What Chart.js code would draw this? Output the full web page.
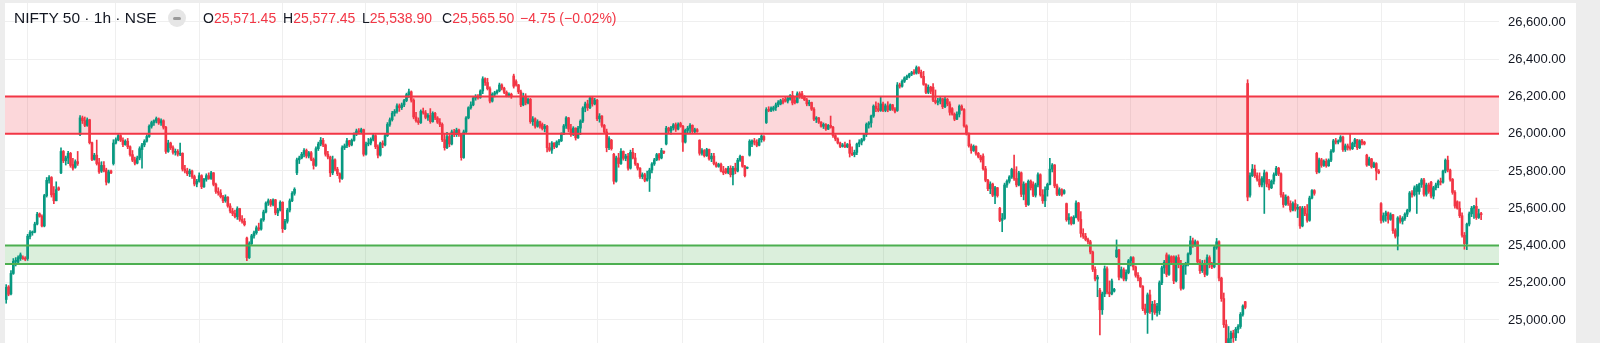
<!DOCTYPE html>
<html>
<head>
<meta charset="utf-8">
<script src="https://cdn.jsdelivr.net/npm/chart.js@4.4.1/dist/chart.umd.min.js"></script>
<style>
  html, body { margin: 0; padding: 0; background: #ededed; }
  body { width: 1600px; height: 343px; overflow: hidden; position: relative; font-family: 'Liberation Sans', Arial, sans-serif; }
  #card { position: absolute; left: 5px; top: 3px; width: 1571px; height: 340px; background: #fff; }
  #card canvas { position: absolute; left: 0; top: 0; }
  .lg { position: absolute; top: 5px; line-height: 20px; font-size: 14px; color: #131722; white-space: nowrap; z-index: 2; }
  .lg i { font-style: normal; color: #f23645; }
  .ttl { font-size: 15.5px; left: 9px; top: 5px; }
  #btn { position: absolute; left: 163px; top: 6px; width: 18px; height: 18px; border-radius: 50%; background: #e6e6e6; z-index: 2; }
  #btn::after { content: ''; position: absolute; left: 5px; top: 7.5px; width: 8px; height: 3px; border-radius: 1.5px; background: #9a9a9a; }
</style>
</head>
<body>
<div id="card">
  <canvas id="myChart"></canvas>
  <span class="lg ttl">NIFTY 50 · 1h · NSE</span>
  <span id="btn"></span>
  <span class="lg" style="left:198px">O<i>25,571.45</i></span>
  <span class="lg" style="left:278px">H<i>25,577.45</i></span>
  <span class="lg" style="left:357px">L<i>25,538.90</i></span>
  <span class="lg" style="left:437px">C<i>25,565.50</i></span>
  <span class="lg" style="left:515px"><i>−4.75 (−0.02%)</i></span>
</div>
<script>
// hourly candles, [open, high, low, close]
var rallyStart = [
  [25110,25190,25090,25175],[25178,25185,25130,25138],[25140,25265,25135,25250],[25250,25330,25245,25315],
  [25315,25335,25290,25320],[25310,25345,25300,25335],[25330,25360,25320,25350],[25335,25345,25325,25330],
  [25332,25340,25318,25326],[25330,25460,25320,25450],[25448,25480,25435,25470],[25468,25478,25455,25472],
  [25472,25525,25468,25515],[25515,25578,25510,25568],[25570,25575,25552,25556],[25556,25565,25500,25505],
  [25505,25675,25500,25668],[25668,25765,25660,25750],[25750,25775,25735,25765],[25765,25770,25660,25672],
  [25680,25716,25625,25640],[25640,25742,25640,25700],[25710,25715,25695,25700],[25790,25925,25785,25905],
  [25905,25910,25845,25855],[25855,25880,25832,25870],[25870,25905,25840,25895],[25895,25900,25820,25830],
  [25835,25868,25805,25815],[25820,25860,25815,25850],[25850,25905,25830,25840],[25995,26097,25990,26085],
  [26085,26095,26055,26070],[26070,26090,26038,26045],[26045,26085,26040,26075],[26075,26078,25945,25952],
  [25952,25955,25855,25862],[25862,25895,25858,25885],[25885,25966,25832,25840],[25845,25868,25787,25795],
  [25800,25850,25792,25830],[25830,25850,25795,25800],[25805,25815,25725,25740],[25740,25805,25735,25795],
  [25800,25805,25785,25790],[25840,25968,25832,25950],[25950,25978,25945,25968],[25968,25996,25962,25990],
  [25990,25995,25958,25965],[25965,25978,25930,25942],[25942,25968,25938,25960],[25960,25975,25920,25930]
];
var firstPullback = [
  [25930,25935,25880,25888],[25888,25910,25850,25858],[25860,25875,25832,25842],[25842,25880,25838,25870],
  [25870,25930,25860,25920],[25915,25948,25815,25940],[25940,25968,25930,25960],[25960,25995,25955,25985],
  [25985,26048,25980,26040],[26040,26068,26030,26060],[26060,26075,26045,26070],[26068,26090,26058,26082],
  [26080,26085,26050,26058],[26058,26080,26045,26070],[26070,26075,26025,26035],[26035,26040,25895,25905],
  [25905,25965,25900,25950],[25950,25955,25915,25925],[25925,25935,25890,25900],[25900,25918,25885,25905],
  [25905,25915,25880,25890],[25890,25950,25882,25895],[25895,25898,25800,25810],[25810,25830,25790,25800],
  [25800,25815,25775,25785],[25785,25810,25770,25800],[25800,25805,25760,25770],[25770,25778,25720,25730],
  [25730,25755,25715,25745],[25745,25790,25740,25775],[25775,25780,25705,25715],[25715,25760,25712,25755],
  [25755,25785,25745,25775],[25775,25790,25755,25760],[25760,25798,25755,25790],[25790,25792,25720,25728],
  [25728,25735,25680,25690],[25690,25710,25670,25682],[25682,25700,25655,25662],[25662,25670,25630,25640],
  [25640,25672,25632,25660],[25660,25662,25605,25612],[25612,25625,25575,25585],[25585,25600,25560,25572],
  [25572,25590,25548,25555],[25555,25608,25540,25598],[25598,25600,25530,25540],[25540,25560,25520,25530],
  [25530,25545,25505,25512],[25440,25445,25318,25335],[25335,25420,25330,25410],[25410,25460,25405,25452],
  [25452,25478,25440,25468],[25468,25505,25460,25495],[25495,25520,25480,25488],[25488,25545,25482,25538],
  [25538,25590,25530,25580],[25580,25635,25575,25628],[25628,25650,25615,25640],[25640,25648,25610,25620],
  [25620,25650,25612,25645],[25645,25648,25565,25575],[25575,25600,25560,25590],[25590,25640,25585,25632],
  [25632,25635,25470,25490],[25490,25540,25485,25530],[25530,25600,25520,25590],[25590,25650,25580,25640],
  [25640,25690,25635,25680],[25680,25710,25670,25702],[25790,25870,25780,25860],[25860,25880,25840,25870],
  [25870,25900,25865,25890],[25890,25920,25875,25910],[25910,25918,25870,25880],[25880,25905,25870,25898],
  [25898,25905,25855,25862],[25862,25870,25810,25830],[25830,25930,25825,25920],[25920,25955,25910,25945],
  [25945,25980,25935,25965],[25965,25975,25930,25940],[25940,25945,25880,25890],[25890,25905,25865,25875],
  [25875,25880,25770,25790],[25790,25880,25780,25860],[25860,25865,25800,25810],[25810,25820,25775,25785],
  [25785,25790,25740,25760],[25760,25935,25755,25925],[25925,25945,25915,25935],[25935,25975,25925,25962],
  [25962,25965,25930,25940],[25940,25972,25935,25965],[25965,26005,25960,25998],[25998,26025,25990,26015],
  [26015,26028,26000,26010],[26010,26030,26005,26022],[26022,26025,25880,25890],[25890,25955,25885,25945],
  [25945,25975,25935,25950],[25950,25978,25940,25970],[25970,26000,25962,25990],[25990,25995,25920,25930],
  [25930,25940,25870,25885],[25885,25955,25880,25950],[25950,25962,25925,25940],[25940,26000,25935,25990],
  [25990,26060,25985,26050],[26050,26085,26040,26075],[26075,26120,26068,26110],[26110,26130,26095,26120],
  [26120,26160,26110,26150]
];
var resistanceTests = [
  [26150,26160,26120,26140],[26140,26165,26130,26155],[26155,26185,26145,26178],[26178,26218,26172,26210],
  [26210,26240,26195,26225],[26225,26230,26170,26180],[26180,26188,26080,26090],[26090,26115,26062,26070],
  [26070,26085,26050,26060],[26060,26128,26055,26120],[26120,26138,26105,26112],[26112,26125,26080,26088],
  [26088,26108,26072,26098],[26098,26135,26056,26065],[26065,26118,26062,26110],[26110,26115,26075,26085],
  [26085,26092,26055,26062],[26062,26082,26038,26050],[26050,26058,25958,25968],[25968,26002,25912,25925],
  [25925,26008,25920,25985],[25985,26002,25930,25945],[25945,26020,25940,26010],[26010,26024,25984,25995],
  [25995,26030,25985,26020],[26020,26025,25985,26000],[26000,26002,25858,25872],[25872,26020,25868,26010],
  [26010,26092,26005,26085],[26085,26145,26080,26140],[26140,26172,26132,26155],[26155,26200,26150,26192],
  [26192,26210,26180,26200],[26200,26210,26185,26195],[26195,26236,26190,26230],[26230,26306,26215,26295],
  [26295,26300,26260,26275],[26275,26298,26235,26242],[26242,26252,26165,26175],[26175,26220,26170,26212],
  [26212,26228,26198,26220],[26220,26236,26212,26230],[26230,26272,26225,26262],[26262,26268,26235,26245],
  [26245,26250,26215,26222],[26222,26230,26198,26205],[26205,26220,26198,26212],[26212,26218,26190,26200],
  [26310,26320,26245,26255],[26280,26290,26255,26262],[26262,26265,26215,26225],[26225,26235,26145,26155],
  [26155,26218,26150,26200],[26200,26215,26155,26165],[26165,26192,26160,26185],[26185,26190,26056,26065],
  [26065,26092,26045,26080],[26080,26085,26030,26040],[26040,26075,26035,26065],[26065,26068,26030,26040],
  [26050,26058,26020,26028],[26028,26050,26010,26040],[26040,26045,25903,25925],[25925,25950,25905,25912],
  [25912,25958,25895,25950],[25950,25952,25920,25930],[25930,25962,25925,25955],[25955,25970,25940,25962],
  [25962,26005,25958,25998],[25998,26050,25995,26042],[26042,26092,26028,26085],[26085,26088,26010,26025],
  [26025,26050,25985,25995],[25995,26038,25990,26030],[26030,26032,25966,25978],[25978,26040,25975,26030],
  [26030,26075,25995,26068],[26068,26145,26060,26138],[26138,26170,26118,26160],[26160,26180,26125,26140],
  [26140,26200,26135,26192],[26192,26195,26148,26160],[26160,26190,26155,26180],[26180,26185,26070,26080],
  [26080,26108,26062,26095],[26095,26098,26035,26045],[26045,26050,26000,26010],[26010,26025,25903,25925],
  [25925,25985,25915,25975],[25965,25970,25912,25920],[25890,25895,25730,25745],[25745,25880,25740,25870],
  [25870,25895,25820,25840],[25840,25920,25835,25905],[25905,25908,25858,25868],[25868,25890,25855,25880],
  [25880,25895,25805,25815],[25815,25912,25810,25900],[25900,25922,25865,25870],[25870,25895,25830,25838],
  [25838,25842,25805,25815],[25815,25818,25760,25770],[25770,25790,25758,25780],[25780,25788,25742,25750],
  [25750,25800,25745,25760],[25760,25815,25690,25805],[25805,25845,25790,25838],[25838,25868,25830,25860],
  [25860,25895,25855,25888],[25888,25895,25858,25870],[25870,25922,25865,25910],[25905,25908,25893,25900],
  [25945,26040,25940,26030],[26030,26035,26002,26015],[26015,26040,25998,26032],[26032,26055,26020,26048],
  [26048,26058,26012,26025],[26025,26058,26020,26050],[26055,26062,26035,26040],[26040,26045,25905,25955],
  [25955,26025,25950,26018],[26018,26040,26005,26030],[26030,26055,26000,26045],[26045,26048,26005,26012],
  [26012,26030,26005,26022],[26022,26028,26008,26012],[25965,25968,25885,25895],[25895,25920,25885,25910],
  [25910,25915,25875,25882],[25882,25922,25878,25915],[25915,25918,25858,25865],[25865,25895,25850,25880],
  [25880,25895,25832,25840],[25840,25848,25820,25825],[25825,25842,25820,25835],[25835,25842,25795,25800],
  [25800,25825,25780,25790],[25810,25815,25785,25792],[25792,25825,25785,25815],[25815,25828,25768,25780],
  [25780,25825,25725,25815],[25815,25842,25785,25800],[25800,25868,25795,25858],[25858,25885,25852,25878],
  [25878,25880,25820,25825],[25825,25830,25768,25775],[25815,25822,25812,25818],[25885,25968,25880,25960],
  [25945,25968,25930,25962],[25962,25975,25940,25955],[25955,25968,25930,25938],[25938,25975,25935,25968],
  [25968,25995,25955,25988],[25985,25990,25960,25968],[26060,26140,26055,26130],[26130,26145,26118,26125],
  [26125,26145,26118,26138],[26130,26148,26122,26140],[26140,26165,26125,26155],[26155,26178,26145,26170],
  [26160,26185,26155,26178],[26178,26190,26160,26168],[26185,26200,26170,26175],[26175,26200,26165,26192],
  [26185,26210,26180,26205],[26205,26228,26155,26165],[26180,26200,26160,26168],[26168,26225,26165,26215],
  [26215,26225,26190,26200]
];
var topAndSlide = [
  [26215,26228,26188,26195],[26195,26205,26178,26182],[26182,26190,26150,26160],[26160,26180,26150,26168],
  [26168,26170,26125,26132],[26132,26140,26070,26078],[26078,26092,26060,26085],[26085,26088,26055,26062],
  [26062,26065,26035,26040],[26040,26058,26028,26050],[26050,26055,26018,26025],[26025,26050,26022,26045],
  [26045,26095,26030,26035],[26035,26040,25980,25990],[25990,25995,25962,25972],[25972,25978,25945,25950],
  [25950,25955,25925,25932],[25932,25948,25928,25940],[25940,25955,25925,25930],[25930,25948,25925,25942],
  [25945,25966,25875,25895],[25895,25930,25882,25888],[25888,25912,25876,25900],[25900,25950,25888,25945],
  [25945,25968,25930,25955],[25955,25975,25940,25968],[25968,26002,25962,25995],[25995,26058,25985,26050],
  [26050,26065,26030,26058],[26058,26100,26035,26095],[26095,26155,26088,26148],[26148,26172,26118,26135],
  [26135,26165,26118,26125],[26125,26200,26120,26160],[26160,26170,26118,26125],[26125,26160,26118,26150],
  [26150,26172,26118,26128],[26128,26160,26125,26155],[26155,26158,26125,26132],[26132,26140,26112,26120],
  [26125,26275,26120,26262],[26262,26272,26245,26255],[26255,26290,26250,26282],[26282,26306,26275,26300],
  [26300,26315,26290,26308],[26308,26325,26300,26320],[26320,26335,26312,26328],[26332,26345,26318,26325],
  [26325,26364,26320,26355],[26355,26360,26322,26330],[26330,26342,26300,26308],[26308,26335,26260,26265],
  [26265,26270,26215,26222],[26222,26262,26215,26250],[26250,26255,26215,26228],[26250,26270,26172,26180],
  [26180,26235,26160,26168],[26168,26190,26155,26175],[26175,26195,26160,26188],[26188,26190,26135,26145],
  [26145,26195,26140,26185],[26185,26190,26150,26160],[26160,26172,26100,26115],[26135,26140,26100,26105],
  [26105,26112,26070,26078],[26078,26118,26075,26105],[26105,26155,26090,26148],[26148,26155,26125,26130],
  [26130,26135,26035,26042],[26042,26048,25993,26000],[26000,26005,25928,25935],[25935,25945,25895,25910],
  [25910,25940,25905,25932],[25932,25935,25885,25895],[25895,25900,25870,25875],[25875,25885,25848,25860],
  [25880,25892,25805,25812],[25812,25825,25742,25750],[25750,25755,25695,25705],[25705,25742,25678,25730],
  [25730,25735,25662,25670],[25670,25718,25625,25710],[25710,25712,25660,25668],[25600,25605,25528,25535],
  [25535,25572,25474,25545],[25545,25735,25540,25725],[25725,25752,25712,25745],[25745,25775,25735,25768],
  [25768,25815,25760,25808],[25808,25885,25750,25760],[25760,25823,25715,25725],[25725,25798,25720,25790],
  [25790,25795,25662,25675],[25675,25742,25645,25730],[25730,25735,25608,25620],[25620,25752,25615,25745],
  [25745,25752,25698,25710],[25730,25742,25662,25670],[25670,25735,25660,25725],[25725,25790,25715,25780],
  [25780,25785,25665,25672],[25672,25700,25626,25640],[25640,25715,25608,25700],[25700,25735,25665,25728],
  [25728,25868,25725,25810],[25810,25840,25795,25832],[25832,25835,25710,25720],[25720,25730,25668,25675],
  [25675,25710,25668,25700],[25700,25705,25665,25672],[25680,25700,25675,25695],[25625,25628,25530,25538],
  [25538,25572,25515,25550],[25550,25555,25510,25518],[25518,25560,25515,25552],[25552,25640,25548,25628],
  [25628,25632,25530,25540],[25540,25582,25445,25465],[25465,25490,25438,25450],[25450,25465,25425,25432],
  [25432,25440,25408,25420]
];
var breakdown = [
  [25420,25428,25355,25365],[25365,25370,25260,25272],[25272,25285,25210,25220],[25220,25240,25125,25230],
  [25160,25170,24920,25055],[25055,25150,25030,25140],[25140,25290,25125,25275],[25275,25285,25140,25150],
  [25150,25210,25125,25140],[25140,25220,25135,25210],[25155,25170,25150,25165],[25340,25430,25335,25376],
  [25376,25380,25215,25230],[25230,25285,25225,25270],[25270,25280,25210,25220],[25220,25270,25210,25255],
  [25255,25325,25248,25318],[25318,25340,25290,25335],[25335,25340,25268,25285],[25285,25290,25230,25240],
  [25240,25255,25210,25225],[25225,25230,25175,25180],[25180,25185,25050,25060],[25060,25085,25030,25040],
  [25040,25145,24928,25135],[25135,25160,25035,25045],[25045,25100,25000,25085],[25085,25105,25030,25040],
  [25040,25090,25020,25075],[25050,25210,25030,25200],[25200,25290,25190,25280],[25280,25320,25250,25310],
  [25350,25360,25232,25245],[25245,25350,25240,25340],[25340,25345,25300,25310],[25340,25345,25195,25210],
  [25210,25345,25205,25335],[25335,25350,25280,25300],[25300,25320,25160,25170],[25170,25300,25165,25290],
  [25290,25310,25245,25300],[25300,25360,25290,25355],[25355,25450,25350,25425],[25425,25440,25390,25400],
  [25400,25430,25395,25420],[25420,25425,25300,25312],[25312,25325,25250,25265],[25265,25320,25255,25300],
  [25300,25322,25232,25245],[25245,25350,25240,25335],[25335,25345,25280,25300],[25300,25310,25275,25285],
  [25285,25400,25280,25390],[25390,25438,25380,25420],[25420,25425,25210,25225],[25225,25230,25100,25115],
  [25115,25145,24960,24975],[24975,25000,24860,24870],[24870,24965,24830,24900],[24900,24940,24860,24930],
  [24930,24945,24880,24905],[24905,24960,24890,24950],[24950,24975,24930,24965],[24965,25040,24955,25030],
  [25030,25082,25020,25075],[25098,25100,25060,25068],[26270,26290,25640,25660]
];
var recovery = [
  [25670,25790,25660,25775],[25775,25835,25770,25810],[25810,25832,25765,25775],[25775,25790,25745,25755],
  [25755,25790,25715,25725],[25725,25770,25715,25760],[25740,25805,25572,25790],[25790,25795,25715,25730],
  [25730,25755,25698,25710],[25710,25752,25705,25745],[25745,25790,25730,25780],[25780,25825,25775,25815],
  [25815,25820,25775,25785],[25785,25790,25660,25672],[25672,25685,25605,25620],[25620,25672,25615,25660],
  [25660,25665,25615,25625],[25625,25640,25580,25590],[25590,25635,25585,25625],[25625,25645,25585,25595],
  [25595,25620,25550,25605],[25605,25610,25492,25505],[25505,25610,25500,25600],[25600,25610,25560,25570],
  [25570,25620,25525,25535],[25535,25665,25530,25655],[25655,25700,25650,25695],[25695,25700,25670,25680],
  [25895,25900,25785,25795],[25795,25870,25790,25860],[25860,25868,25820,25830],[25830,25860,25825,25852],
  [25852,25865,25820,25828],[25828,25865,25825,25858],[25858,25915,25850,25905],[25905,25970,25900,25962],
  [25962,25975,25945,25955],[25955,25968,25945,25960],[25960,25990,25955,25982],[25982,25988,25905,25915],
  [25915,25945,25905,25935],[25935,25945,25912,25925],[25930,25997,25912,25920],[25920,25955,25915,25948],
  [25948,25975,25930,25968],[25968,25970,25915,25925],[25925,25968,25920,25962],[25962,25970,25940,25950],
  [25955,25960,25940,25945],[25885,25890,25825,25832],[25832,25875,25830,25865],[25865,25868,25815,25822],
  [25822,25848,25818,25840],[25840,25845,25752,25800],[25800,25808,25785,25790],[25625,25630,25520,25535],
  [25535,25575,25525,25560],[25560,25585,25530,25575],[25575,25580,25520,25540],[25540,25575,25535,25565],
  [25565,25568,25465,25480],[25480,25490,25440,25450],[25450,25555,25376,25548],[25548,25560,25520,25530],
  [25530,25555,25515,25545],[25545,25575,25535,25568],[25568,25595,25555,25588],[25588,25690,25580,25682],
  [25682,25695,25660,25672],[25672,25720,25665,25710],[25690,25728,25572,25720],[25690,25735,25675,25728],
  [25728,25760,25712,25752],[25752,25760,25665,25675],[25675,25735,25665,25725],[25725,25735,25680,25690],
  [25740,25745,25655,25665],[25665,25718,25650,25710],[25710,25735,25698,25725],[25725,25752,25710,25745],
  [25745,25762,25725,25740],[25740,25805,25735,25800],[25800,25865,25790,25858],[25858,25880,25795,25805],
  [25805,25810,25745,25755],[25755,25760,25675,25685],[25685,25695,25600,25612],[25635,25640,25595,25600],
  [25600,25635,25550,25560],[25560,25575,25445,25455],[25455,25470,25380,25410],[25410,25520,25378,25515],
  [25515,25580,25505,25570],[25570,25610,25555,25600],[25600,25615,25545,25608],[25610,25655,25540,25550],
  [25550,25595,25545,25570.25],[25571.45,25577.45,25538.90,25565.50]
];

var priceTicks = [25000, 25200, 25400, 25600, 25800, 26000, 26200, 26400, 26600];
var resistanceZone = [26000, 26200];
var supportZone = [25300, 25400];
var weekLines = [9, 46, 81, 116, 151, 214, 248, 284, 318, 368, 403, 437, 472, 508, 542, 577, 612];

var candles = [].concat(rallyStart, firstPullback, resistanceTests, topAndSlide, breakdown, recovery);
var labels = [];
for (var i = 0; i < candles.length + 7; i++) labels.push(i);

const upColor = '#089981';
const downColor = '#f23645';
var colors = candles.map(c => c[3] >= c[0] ? upColor : downColor);

const priceFmt = new Intl.NumberFormat('en-US', { minimumFractionDigits: 2, maximumFractionDigits: 2 });

const zones = {
    id: 'zones',
    beforeDatasetsDraw(chart) {
        const ctx = chart.ctx, a = chart.chartArea, y = chart.scales.y;
        ctx.save();
        ctx.fillStyle = 'rgba(242, 54, 69, 0.2)';
        ctx.fillRect(a.left, y.getPixelForValue(resistanceZone[1]), a.right - a.left,
            y.getPixelForValue(resistanceZone[0]) - y.getPixelForValue(resistanceZone[1]));
        ctx.fillStyle = 'rgba(76, 175, 80, 0.2)';
        ctx.fillRect(a.left, y.getPixelForValue(supportZone[1]), a.right - a.left,
            y.getPixelForValue(supportZone[0]) - y.getPixelForValue(supportZone[1]));
        ctx.restore();
    },
    afterDatasetsDraw(chart) {
        const ctx = chart.ctx, a = chart.chartArea, y = chart.scales.y;
        ctx.save();
        ctx.lineWidth = 2;
        const line = (v, col) => {
            const py = y.getPixelForValue(v);
            ctx.strokeStyle = col;
            ctx.beginPath();
            ctx.moveTo(a.left, py);
            ctx.lineTo(a.right, py);
            ctx.stroke();
        };
        resistanceZone.forEach(v => line(v, '#f23645'));
        supportZone.forEach(v => line(v, '#4caf50'));
        ctx.restore();
    }
};

const config = {
    type: 'bar',
    data: {
        labels: labels,
        datasets: [{
            label: 'wick',
            data: candles.map(c => [c[2], c[1]]),
            backgroundColor: colors,
            barThickness: 1,
            grouped: false,
        }, {
            label: 'body',
            data: candles.map(c => [c[0], c[3]]),
            backgroundColor: colors,
            barThickness: 2,
            minBarLength: 1,
            grouped: false,
        }]
    },
    options: {
        responsive: true,
        maintainAspectRatio: false,
        devicePixelRatio: 1,
        animation: false,
        layout: { padding: 0 },
        plugins: { legend: { display: false }, tooltip: { enabled: false } },
        scales: {
            x: {
                type: 'category',
                offset: true,
                border: { display: false },
                ticks: { display: false, autoSkip: false },
                grid: {
                    offset: false,
                    drawTicks: false,
                    color: ctx => weekLines.includes(ctx.index) ? '#efefef' : 'rgba(0,0,0,0)',
                },
                afterFit: s => { s.height = 0; s.paddingLeft = 0; s.paddingRight = 0; },
            },
            y: {
                position: 'right',
                min: 24876.5,
                max: 26702,
                border: { display: false },
                grid: { color: '#efefef', drawTicks: false },
                ticks: {
                    padding: 9,
                    color: '#131722',
                    font: { family: "'Liberation Sans', Arial, sans-serif", size: 13 },
                    callback: v => priceFmt.format(v),
                },
                afterBuildTicks: s => { s.ticks = priceTicks.map(v => ({ value: v })); },
                afterFit: s => { s.width = 77; s.paddingTop = 0; s.paddingBottom = 0; },
            }
        }
    },
    plugins: [zones]
};

const myChart = new Chart(document.getElementById('myChart'), config);
</script>
</body>
</html>
